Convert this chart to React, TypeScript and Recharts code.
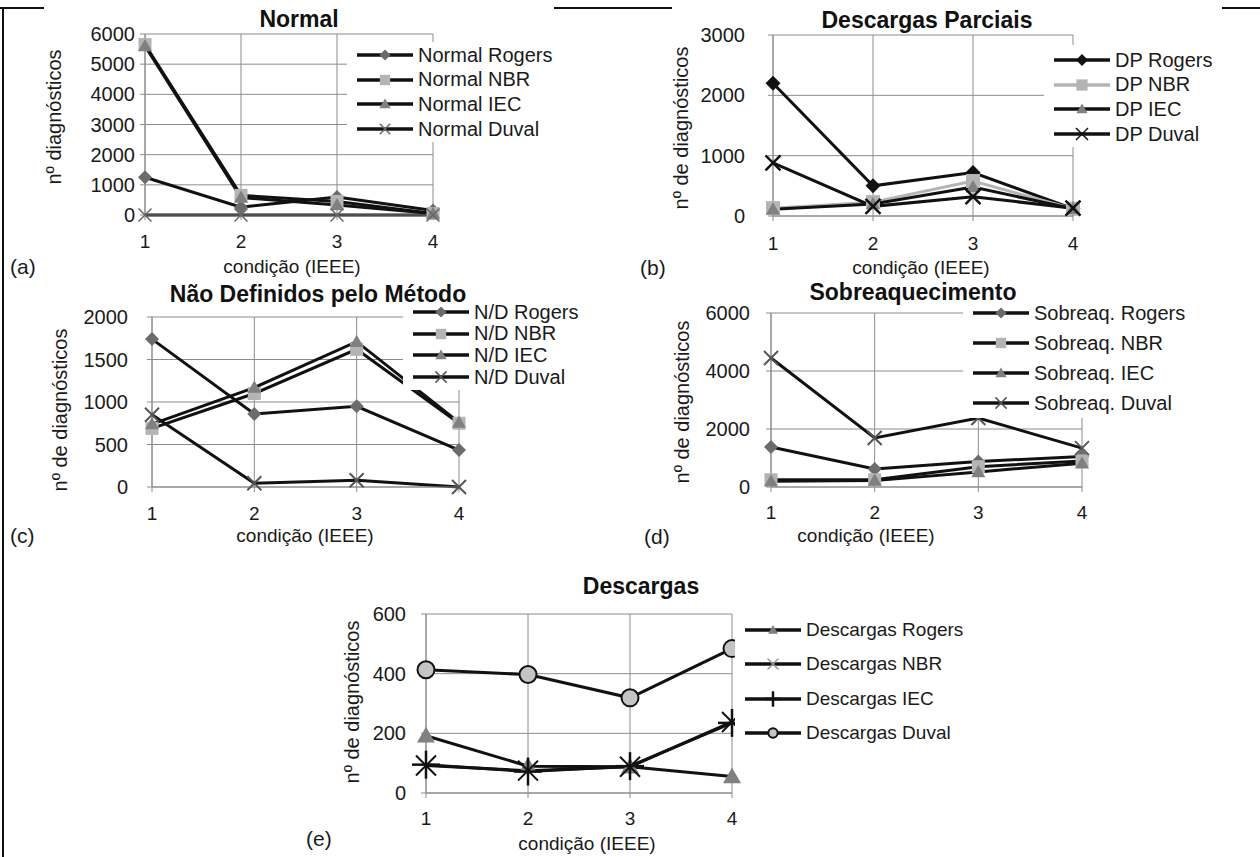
import React from "react";
import { CartesianGrid, Line, LineChart, XAxis, YAxis } from "recharts";

const conditions = [1, 2, 3, 4];

// (a) Normal
const normalRogers = [1250, 260, 600, 150];
const normalNBR = [5650, 650, 450, 50];
const normalIEC = [5600, 580, 330, 50];
const normalDuval = [0, 0, 0, 0];
const normalTicks = [0, 1000, 2000, 3000, 4000, 5000, 6000];

// (b) Descargas Parciais
const dpRogers = [2200, 500, 720, 120];
const dpNBR = [130, 230, 580, 120];
const dpIEC = [110, 200, 480, 120];
const dpDuval = [880, 160, 320, 130];
const dpTicks = [0, 1000, 2000, 3000];

// (c) Não Definidos pelo Método
const ndRogers = [1740, 860, 950, 435];
const ndNBR = [690, 1100, 1620, 750];
const ndIEC = [740, 1170, 1710, 760];
const ndDuval = [850, 45, 80, 0];
const ndTicks = [0, 500, 1000, 1500, 2000];

// (d) Sobreaquecimento
const sobRogers = [1380, 620, 880, 1050];
const sobNBR = [250, 250, 700, 900];
const sobIEC = [200, 220, 520, 820];
const sobDuval = [4450, 1690, 2380, 1340];
const sobTicks = [0, 2000, 4000, 6000];

// (e) Descargas
const descRogers = [192, 90, 88, 55];
const descNBR = [92, 75, 88, 238];
const descIEC = [95, 72, 90, 235];
const descDuval = [413, 397, 319, 484];
const descTicks = [0, 200, 400, 600];

const FONT = "'Liberation Sans', Arial, sans-serif";
const INK = "#1a1a1a";
const GRID = "#8c8c8c";

type Kind = "diamond" | "square" | "triangle" | "x" | "plus" | "circle";

interface Series {
  name: string;
  values: number[];
  kind: Kind;
  fill: string;
  size: number;
  line?: string;
  sw?: number;
  legendFill?: string;
}

function Mark({ kind, cx, cy, size, fill, sw = 1.5 }: { kind: Kind; cx: number; cy: number; size: number; fill: string; sw?: number }) {
  const h = size / 2;
  switch (kind) {
    case "diamond":
      return <polygon points={`${cx},${cy - h} ${cx + h},${cy} ${cx},${cy + h} ${cx - h},${cy}`} fill={fill} />;
    case "square":
      return <rect x={cx - h} y={cy - h} width={size} height={size} fill={fill} />;
    case "triangle":
      return <polygon points={`${cx},${cy - h} ${cx + h},${cy + h * 0.75} ${cx - h},${cy + h * 0.75}`} fill={fill} />;
    case "x":
      return (
        <g stroke={fill} strokeWidth={sw}>
          <line x1={cx - h} y1={cy - h} x2={cx + h} y2={cy + h} />
          <line x1={cx - h} y1={cy + h} x2={cx + h} y2={cy - h} />
        </g>
      );
    case "plus":
      return (
        <g stroke={fill} strokeWidth={sw}>
          <line x1={cx} y1={cy - h} x2={cx} y2={cy + h} />
          <line x1={cx - h} y1={cy} x2={cx + h} y2={cy} />
        </g>
      );
    case "circle":
      return <circle cx={cx} cy={cy} r={h} fill={fill} stroke="#111" strokeWidth={2} />;
  }
}

interface PanelProps {
  title: string;
  titleAt: [number, number];
  tag: string;
  tagAt: [number, number];
  yTitle: string;
  yTitleAt: [number, number];
  xTitleAt: [number, number];
  plot: { l: number; r: number; t: number; b: number };
  yTicks: number[];
  yGap: number;
  xGap: number;
  series: Series[];
  legend: { left: number; top: number; width: number; height: number; first: number; step: number; font: number };
  legendScale?: number;
}

function Panel(p: PanelProps) {
  const ML = 120;
  const MT = 20;
  const MR = 20;
  const XH = 60;
  const W = p.plot.r - p.plot.l + ML + MR;
  const H = p.plot.b - p.plot.t + MT + XH;
  const data = conditions.map((c, i) => {
    const row: Record<string, number> = { x: c };
    p.series.forEach((s, k) => {
      row["s" + k] = s.values[i];
    });
    return row;
  });
  const max = p.yTicks[p.yTicks.length - 1];
  const lg = p.legend;
  const ls = p.legendScale ?? 0.8;

  return (
    <>
      <div style={{ position: "absolute", left: p.plot.l - ML, top: p.plot.t - MT }}>
        <LineChart width={W} height={H} data={data} margin={{ top: MT, right: MR, bottom: 0, left: 0 }}>
          <CartesianGrid stroke={GRID} />
          <XAxis
            dataKey="x"
            type="number"
            domain={[1, 4]}
            ticks={conditions}
            height={XH}
            tickSize={5}
            tickMargin={p.xGap}
            stroke={GRID}
            tick={{ fill: INK, fontSize: 19 }}
          />
          <YAxis
            width={ML}
            domain={[0, max]}
            ticks={p.yTicks}
            tickSize={5}
            tickMargin={p.yGap}
            stroke={GRID}
            tick={{ fill: INK, fontSize: 20 }}
          />
          {p.series.map((s, k) => (
            <Line
              key={s.name}
              dataKey={"s" + k}
              type="linear"
              stroke={s.line ?? "#111"}
              strokeWidth={3}
              isAnimationActive={false}
              activeDot={false}
              dot={(d: any) => (
                <Mark key={`${s.name}-${d.index}`} kind={s.kind} cx={d.cx} cy={d.cy} size={s.size} fill={s.fill} sw={s.sw} />
              )}
            />
          ))}
        </LineChart>
      </div>

      {/* legend */}
      <div
        style={{
          position: "absolute",
          left: lg.left,
          top: lg.top,
          width: lg.width,
          height: lg.height,
          background: "#fff",
        }}
      >
        {p.series.map((s, k) => {
          const cy = lg.first + k * lg.step - lg.top;
          return (
            <div key={s.name} style={{ position: "absolute", left: 10, top: cy - 12, height: 24, display: "flex", alignItems: "center" }}>
              <svg width={56} height={24}>
                <line x1={0} y1={12} x2={56} y2={12} stroke={s.line ?? "#111"} strokeWidth={3.5} />
                <Mark kind={s.kind} cx={28} cy={12} size={s.size * ls} fill={s.legendFill ?? s.fill} sw={s.kind === "x" ? 1.5 : s.sw} />
              </svg>
              <span style={{ marginLeft: 5, fontSize: lg.font, color: INK, whiteSpace: "nowrap" }}>{s.name}</span>
            </div>
          );
        })}
      </div>

      <div style={{ ...centered(p.titleAt), fontSize: 23, fontWeight: "bold", color: "#111" }}>{p.title}</div>
      <div style={{ ...centered(p.xTitleAt), fontSize: 19, color: INK }}>condição (IEEE)</div>
      <div style={{ ...centered(p.yTitleAt, true), fontSize: 20, color: INK }}>{p.yTitle}</div>
      <div style={{ position: "absolute", left: p.tagAt[0], top: p.tagAt[1] - 12, fontSize: 21, color: INK }}>{p.tag}</div>
    </>
  );
}

function centered([x, y]: [number, number], rotate = false): React.CSSProperties {
  return {
    position: "absolute",
    left: x,
    top: y,
    whiteSpace: "nowrap",
    lineHeight: 1,
    transform: `translate(-50%, -50%)${rotate ? " rotate(-90deg)" : ""}`,
  };
}

export default function App() {
  return (
    <div style={{ position: "absolute", left: 0, top: 0, width: 1260, height: 857, background: "#fff", fontFamily: FONT, overflow: "hidden" }}>
      {/* figure frame */}
      <div style={{ position: "absolute", left: 2, top: 7, width: 2, height: 850, background: "#111" }} />
      <div style={{ position: "absolute", left: 0, top: 7, width: 44, height: 2, background: "#111" }} />
      <div style={{ position: "absolute", left: 554, top: 7, width: 118, height: 2, background: "#111" }} />
      <div style={{ position: "absolute", left: 1222, top: 7, width: 38, height: 2, background: "#111" }} />

      <Panel
        title="Normal"
        titleAt={[299, 19]}
        tag="(a)"
        tagAt={[10, 267]}
        yTitle="nº diagnósticos"
        yTitleAt={[54, 117]}
        xTitleAt={[292, 266]}
        plot={{ l: 145, r: 433, t: 34, b: 215 }}
        yTicks={normalTicks}
        yGap={5}
        xGap={15}
        series={[
          { name: "Normal Rogers", values: normalRogers, kind: "diamond", fill: "#6b6b6b", size: 14 },
          { name: "Normal NBR", values: normalNBR, kind: "square", fill: "#b4b4b4", size: 13 },
          { name: "Normal IEC", values: normalIEC, kind: "triangle", fill: "#808080", size: 14 },
          { name: "Normal Duval", values: normalDuval, kind: "x", fill: "#666", size: 13, sw: 1.5 },
        ]}
        legend={{ left: 347, top: 42, width: 215, height: 100, first: 55, step: 24.7, font: 20 }}
      />

      <Panel
        title="Descargas Parciais"
        titleAt={[927, 20]}
        tag="(b)"
        tagAt={[640, 268]}
        yTitle="nº de diagnósticos"
        yTitleAt={[681, 128]}
        xTitleAt={[921, 267]}
        plot={{ l: 773, r: 1073, t: 35, b: 216 }}
        yTicks={dpTicks}
        yGap={23}
        xGap={16}
        series={[
          { name: "DP Rogers", values: dpRogers, kind: "diamond", fill: "#111", size: 15 },
          { name: "DP NBR", values: dpNBR, kind: "square", fill: "#b4b4b4", size: 14, line: "#b4b4b4" },
          { name: "DP IEC", values: dpIEC, kind: "triangle", fill: "#808080", size: 14 },
          { name: "DP Duval", values: dpDuval, kind: "x", fill: "#111", size: 15, sw: 2.5 },
        ]}
        legend={{ left: 1044, top: 45, width: 180, height: 102, first: 60, step: 24.7, font: 20 }}
      />

      <Panel
        title="Não Definidos pelo Método"
        titleAt={[318, 294]}
        tag="(c)"
        tagAt={[10, 536]}
        yTitle="nº de diagnósticos"
        yTitleAt={[60, 410]}
        xTitleAt={[305, 535]}
        plot={{ l: 152, r: 459, t: 317, b: 487 }}
        yTicks={ndTicks}
        yGap={19}
        xGap={15}
        series={[
          { name: "N/D Rogers", values: ndRogers, kind: "diamond", fill: "#6b6b6b", size: 14 },
          { name: "N/D NBR", values: ndNBR, kind: "square", fill: "#b4b4b4", size: 13 },
          { name: "N/D IEC", values: ndIEC, kind: "triangle", fill: "#808080", size: 14 },
          { name: "N/D Duval", values: ndDuval, kind: "x", fill: "#555", size: 14, sw: 2 },
        ]}
        legend={{ left: 403, top: 299, width: 190, height: 91, first: 312, step: 21.7, font: 20 }}
      />

      <Panel
        title="Sobreaquecimento"
        titleAt={[913, 292]}
        tag="(d)"
        tagAt={[644, 537]}
        yTitle="nº de diagnósticos"
        yTitleAt={[682, 402]}
        xTitleAt={[866, 535]}
        plot={{ l: 771, r: 1082, t: 313, b: 487 }}
        yTicks={sobTicks}
        yGap={16}
        xGap={14}
        series={[
          { name: "Sobreaq. Rogers", values: sobRogers, kind: "diamond", fill: "#6b6b6b", size: 14 },
          { name: "Sobreaq. NBR", values: sobNBR, kind: "square", fill: "#b4b4b4", size: 13 },
          { name: "Sobreaq. IEC", values: sobIEC, kind: "triangle", fill: "#808080", size: 14 },
          { name: "Sobreaq. Duval", values: sobDuval, kind: "x", fill: "#555", size: 14, sw: 2 },
        ]}
        legend={{ left: 963, top: 300, width: 265, height: 118, first: 313, step: 30, font: 20 }}
      />

      <Panel
        title="Descargas"
        titleAt={[641, 586]}
        tag="(e)"
        tagAt={[306, 839]}
        yTitle="nº de diagnósticos"
        yTitleAt={[352, 702]}
        xTitleAt={[587, 843]}
        plot={{ l: 426, r: 732, t: 614, b: 793 }}
        yTicks={descTicks}
        yGap={15}
        xGap={14}
        legendScale={0.55}
        series={[
          { name: "Descargas Rogers", values: descRogers, kind: "triangle", fill: "#808080", size: 18 },
          { name: "Descargas NBR", values: descNBR, kind: "x", fill: "#111", size: 20, sw: 2, legendFill: "#999" },
          { name: "Descargas IEC", values: descIEC, kind: "plus", fill: "#111", size: 28, sw: 2.5 },
          { name: "Descargas Duval", values: descDuval, kind: "circle", fill: "#c4c4c4", size: 17 },
        ]}
        legend={{ left: 735, top: 612, width: 235, height: 140, first: 630, step: 34.3, font: 19 }}
      />
    </div>
  );
}
